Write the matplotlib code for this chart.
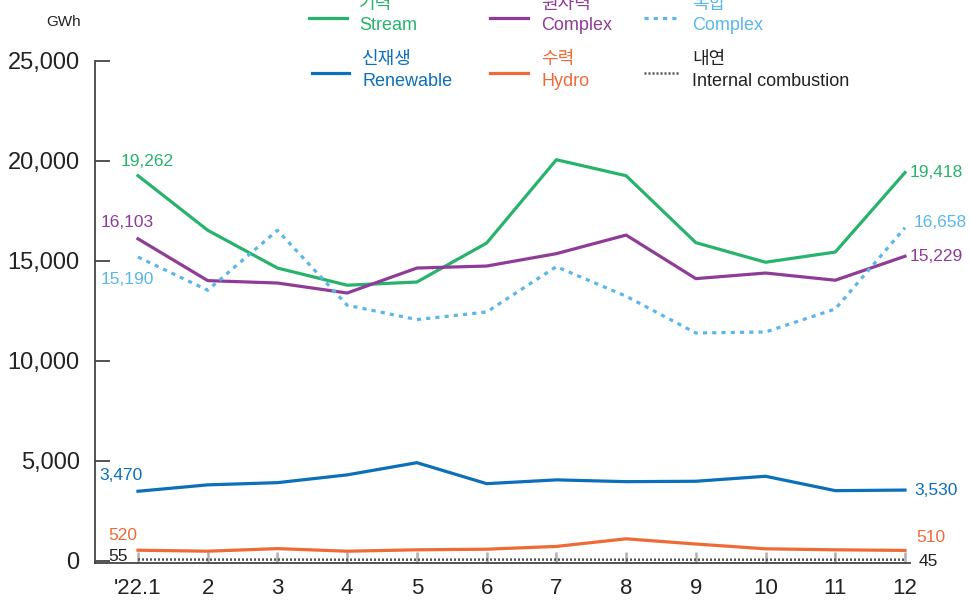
import matplotlib
matplotlib.use("Agg")
import matplotlib.pyplot as plt
from matplotlib.lines import Line2D

plt.rcParams['font.family'] = ['Liberation Sans', 'Noto Sans CJK KR', 'DejaVu Sans']

months = list(range(1, 13))
month_labels = ["'22.1", "2", "3", "4", "5", "6", "7", "8", "9", "10", "11", "12"]

stream = [19262, 16530, 14640, 13780, 13940, 15890, 20060, 19260, 15910, 14930, 15440, 19418]
nuclear = [16103, 14010, 13890, 13390, 14640, 14740, 15360, 16290, 14110, 14390, 14030, 15229]
complex_ = [15190, 13530, 16530, 12780, 12060, 12440, 14710, 13230, 11390, 11440, 12590, 16658]
renewable = [3470, 3790, 3900, 4290, 4900, 3850, 4040, 3950, 3970, 4220, 3500, 3530]
hydro = [520, 470, 600, 470, 540, 570, 710, 1090, 830, 590, 540, 510]
internal = [55, 50, 50, 45, 45, 50, 50, 45, 45, 45, 45, 45]

c_green = "#27b36b"
c_purple = "#8f3c98"
c_lblue = "#5ab7e8"
c_blue = "#0b6fba"
c_orange = "#f06a37"
c_gray = "#555555"

W, H = 971, 603
fig = plt.figure(figsize=(W / 100, H / 100), dpi=100)
ax = fig.add_axes([95 / W, 1 - 563 / H, (910 - 95) / W, (563 - 61) / H])

lw = 2.3
ax.plot(months, stream, color=c_green, lw=lw)
ax.plot(months, nuclear, color=c_purple, lw=lw)
ax.plot(months, complex_, color=c_lblue, lw=lw, ls=(0, (1.3, 1.6)))
ax.plot(months, renewable, color=c_blue, lw=lw)
ax.plot(months, hydro, color=c_orange, lw=lw)
ax.plot(months, internal, color=c_gray, lw=1.8, ls=(0, (0.8, 0.8)))

ax.set_xlim(1 - 43 / 69.73, 12 + 5 / 69.73)
ax.set_ylim(-120, 25000)
ax.set_yticks([0, 5000, 10000, 15000, 20000, 25000])
ax.set_yticklabels(["0", "5,000", "10,000", "15,000", "20,000", "25,000"])
ax.set_xticks(months)
ax.set_xticklabels(month_labels)

for s in ['top', 'right']:
    ax.spines[s].set_visible(False)
for s in ['left', 'bottom']:
    ax.spines[s].set_color("#444444")
    ax.spines[s].set_linewidth(1.3)

ax.tick_params(axis='y', direction='in', length=11, width=1.3, color="#444444",
               labelsize=17, pad=11, labelcolor="#222222")
ax.tick_params(axis='x', direction='in', length=8, width=1.8, color="#b0b0b0",
               labelsize=16, pad=11, labelcolor="#222222")

# value labels at both ends
px = 1 / 1.389  # pixel -> points


def lab(x, y, text, color, dx, dy, ha='center'):
    ax.annotate(text, (x, y), xytext=(dx * px, dy * px), textcoords='offset points',
                ha=ha, va='center', color=color, fontsize=12.5)


lab(1, stream[0], "19,262", c_green, 9, 14)
lab(1, nuclear[0], "16,103", c_purple, -11, 16)
lab(1, complex_[0], "15,190", c_lblue, -11, -22)
lab(1, renewable[0], "3,470", c_blue, -17, 16)
lab(1, hydro[0], "520", c_orange, -15, 15)
lab(1, internal[0], "55", "#222222", -10, 3, ha='right')

lab(12, stream[-1], "19,418", c_green, 5, 0, ha='left')
lab(12, complex_[-1], "16,658", c_lblue, 9, 5, ha='left')
lab(12, nuclear[-1], "15,229", c_purple, 5, 0, ha='left')
lab(12, renewable[-1], "3,530", c_blue, 9, 0, ha='left')
lab(12, hydro[-1], "510", c_orange, 11, 13, ha='left')
lab(12, internal[-1], "45", "#222222", 14, -2, ha='left')

fig.text(64 / W, 1 - 22 / H, "GWh", ha='center', va='center', fontsize=11, color="#222222")

# legend drawn by hand
legend_items = [
    (309, 347, 18, 359, "기력", "Stream", c_green, '-'),
    (490, 528, 18, 541, "원자력", "Complex", c_purple, '-'),
    (644, 680, 18, 692, "복합", "Complex", c_lblue, (0, (1.3, 1.6))),
    (312, 349, 73, 362, "신재생", "Renewable", c_blue, '-'),
    (490, 528, 73, 541, "수력", "Hydro", c_orange, '-'),
    (644, 680, 73, 692, "내연", "Internal combustion", c_gray, (0, (0.8, 0.8))),
]
for x0, x1, ly, tx, kr, en, col, st in legend_items:
    fig.add_artist(Line2D([x0 / W, x1 / W], [1 - ly / H, 1 - ly / H], transform=fig.transFigure,
                          color=col, lw=2.3 if st == '-' or col == c_lblue else 1.8, ls=st))
    tcol = "#222222" if col == c_gray else col
    fig.text(tx / W, 1 - (ly - 14) / H, kr, ha='left', va='center', fontsize=13,
             color=tcol, family=['Noto Sans CJK KR', 'DejaVu Sans'])
    fig.text(tx / W, 1 - (ly + 8) / H, en, ha='left', va='center', fontsize=13, color=tcol)

fig.savefig("out.png", dpi=100)
